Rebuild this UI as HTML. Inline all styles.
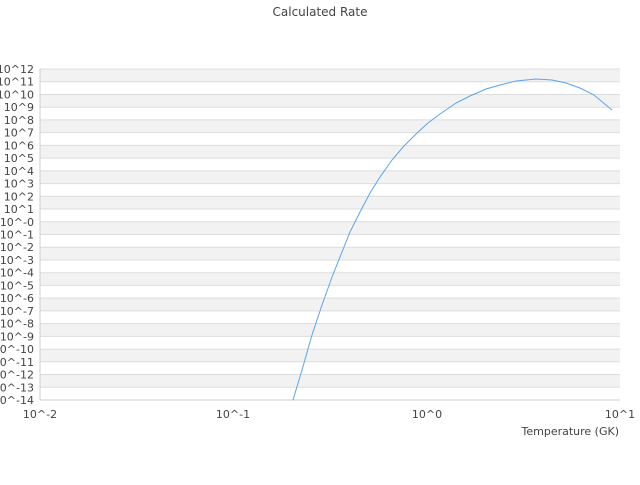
<!DOCTYPE html><html><head><style>body{margin:0;background:#fff}svg text{font-family:"DejaVu Sans",sans-serif;fill:#444;font-size:11px}</style></head><body>
<svg width="640" height="480" xmlns="http://www.w3.org/2000/svg">
<text x="320" y="16" text-anchor="middle" style="font-size:12px">Calculated Rate</text>
<g fill="#f2f2f2">
<rect x="40" y="69" width="580" height="12.73"/>
<rect x="40" y="94.46" width="580" height="12.73"/>
<rect x="40" y="119.92" width="580" height="12.73"/>
<rect x="40" y="145.38" width="580" height="12.73"/>
<rect x="40" y="170.85" width="580" height="12.73"/>
<rect x="40" y="196.31" width="580" height="12.73"/>
<rect x="40" y="221.77" width="580" height="12.73"/>
<rect x="40" y="247.23" width="580" height="12.73"/>
<rect x="40" y="272.69" width="580" height="12.73"/>
<rect x="40" y="298.15" width="580" height="12.73"/>
<rect x="40" y="323.62" width="580" height="12.73"/>
<rect x="40" y="349.08" width="580" height="12.73"/>
<rect x="40" y="374.54" width="580" height="12.73"/>
</g>
<g stroke="#ddd">
<line x1="40" x2="620" y1="69" y2="69"/><line x1="40" x2="620" y1="81.73" y2="81.73"/><line x1="40" x2="620" y1="94.46" y2="94.46"/><line x1="40" x2="620" y1="107.19" y2="107.19"/><line x1="40" x2="620" y1="119.92" y2="119.92"/><line x1="40" x2="620" y1="132.65" y2="132.65"/><line x1="40" x2="620" y1="145.38" y2="145.38"/><line x1="40" x2="620" y1="158.12" y2="158.12"/><line x1="40" x2="620" y1="170.85" y2="170.85"/><line x1="40" x2="620" y1="183.58" y2="183.58"/><line x1="40" x2="620" y1="196.31" y2="196.31"/><line x1="40" x2="620" y1="209.04" y2="209.04"/><line x1="40" x2="620" y1="221.77" y2="221.77"/><line x1="40" x2="620" y1="234.5" y2="234.5"/><line x1="40" x2="620" y1="247.23" y2="247.23"/><line x1="40" x2="620" y1="259.96" y2="259.96"/><line x1="40" x2="620" y1="272.69" y2="272.69"/><line x1="40" x2="620" y1="285.42" y2="285.42"/><line x1="40" x2="620" y1="298.15" y2="298.15"/><line x1="40" x2="620" y1="310.88" y2="310.88"/><line x1="40" x2="620" y1="323.62" y2="323.62"/><line x1="40" x2="620" y1="336.35" y2="336.35"/><line x1="40" x2="620" y1="349.08" y2="349.08"/><line x1="40" x2="620" y1="361.81" y2="361.81"/><line x1="40" x2="620" y1="374.54" y2="374.54"/><line x1="40" x2="620" y1="387.27" y2="387.27"/>
</g>
<g text-anchor="end">
<text x="34" y="73">10^12</text><text x="34" y="85.7">10^11</text><text x="34" y="98.5">10^10</text><text x="34" y="111.2">10^9</text><text x="34" y="123.9">10^8</text><text x="34" y="136.7">10^7</text><text x="34" y="149.4">10^6</text><text x="34" y="162.1">10^5</text><text x="34" y="174.9">10^4</text><text x="34" y="187.6">10^3</text><text x="34" y="200.3">10^2</text><text x="34" y="213">10^1</text><text x="34" y="225.8">10^-0</text><text x="34" y="238.5">10^-1</text><text x="34" y="251.2">10^-2</text><text x="34" y="264">10^-3</text><text x="34" y="276.7">10^-4</text><text x="34" y="289.4">10^-5</text><text x="34" y="302.2">10^-6</text><text x="34" y="314.9">10^-7</text><text x="34" y="327.6">10^-8</text><text x="34" y="340.4">10^-9</text><text x="34" y="353.1">10^-10</text><text x="34" y="365.8">10^-11</text><text x="34" y="378.5">10^-12</text><text x="34" y="391.3">10^-13</text><text x="34" y="404">10^-14</text>
</g>
<line x1="40" y1="69" x2="40" y2="400" stroke="#ccc"/>
<line x1="40" y1="400" x2="620" y2="400" stroke="#ccc"/>
<text x="40" y="418" text-anchor="middle">10^-2</text>
<text x="233" y="418" text-anchor="middle">10^-1</text>
<text x="427" y="418" text-anchor="middle">10^0</text>
<text x="620" y="418" text-anchor="middle">10^1</text>
<text x="619" y="435" text-anchor="end">Temperature (GK)</text>
<polyline fill="none" stroke="#5aa5ea" stroke-width="1" points="293,400 302,370 312,335 322,305 332,277 342,252 350,232 360,212 370,193 380,177 392,160 404,146 416,134 428,123 440,114 456,103 470,96 486,89 500,85 516,81 536,79 552,80 566,83 580,88 594,95 612,110"/>
</svg></body></html>
